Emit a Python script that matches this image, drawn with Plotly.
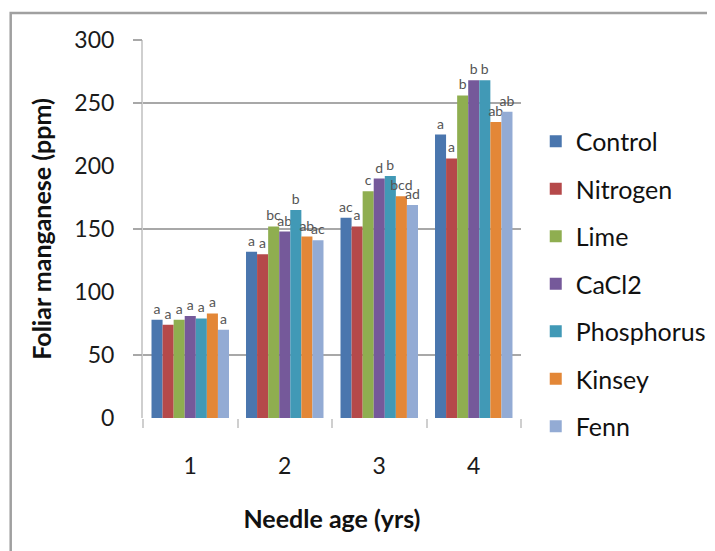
import plotly.graph_objects as go

ages = ["1", "2", "3", "4"]
treatments = ["Control", "Nitrogen", "Lime", "CaCl2", "Phosphorus", "Kinsey", "Fenn"]
control = [78, 132, 159, 225]
nitrogen = [74, 130, 152, 206]
lime = [78, 152, 180, 256]
cacl2 = [81, 148, 190, 268]
phosphorus = [79, 165, 192, 268]
kinsey = [83, 144, 176, 235]
fenn = [70, 141, 169, 243]
values = [control, nitrogen, lime, cacl2, phosphorus, kinsey, fenn]

letters_control = ["a", "a", "ac", "a"]
letters_nitrogen = ["a", "a", "a", "a"]
letters_lime = ["a", "bc", "c", "b"]
letters_cacl2 = ["a", "ab", "d", "b"]
letters_phosphorus = ["a", "b", "b", "b"]
letters_kinsey = ["a", "ab", "bcd", "ab"]
letters_fenn = ["a", "ac", "ad", "ab"]
letters = [letters_control, letters_nitrogen, letters_lime, letters_cacl2,
           letters_phosphorus, letters_kinsey, letters_fenn]

colors = ["#4A76AE", "#B5494A", "#8FAE50", "#75599A", "#4199B6", "#E38737", "#93ABD4"]

FONT = "Lato, 'Liberation Sans', sans-serif"

fig = go.Figure()
for i, name in enumerate(treatments):
    fig.add_trace(go.Bar(
        x=ages, y=values[i], name=name, legendgroup=name,
        marker=dict(color=colors[i], line=dict(width=0)),
        text=letters[i], textposition="outside", constraintext="none",
        textfont=dict(size=14, color="#555555", family=FONT),
        cliponaxis=False,
    ))

# invisible helper trace for the grid axis
fig.add_trace(go.Scatter(x=ages, y=[None] * 4, yaxis="y2", showlegend=False,
                         hoverinfo="skip", mode="lines"))

fig.update_layout(
    width=715, height=551,
    margin=dict(l=135, r=197, t=32, b=141),
    paper_bgcolor="white", plot_bgcolor="white",
    barmode="group", bargap=0.18, bargroupgap=0,
    font=dict(family=FONT, color="#1a1a1a"),
    xaxis=dict(
        type="category", showgrid=False, showline=False, zeroline=False,
        ticks="outside", tickson="boundaries", ticklen=9, tickwidth=2,
        tickcolor="#cfcfcf", tickfont=dict(size=23, color="#1a1a1a"),
        ticklabelstandoff=32,
        title=dict(text="<b>Needle age (yrs)</b>", font=dict(size=25, color="#111"), standoff=32),
    ),
    yaxis=dict(
        range=[0, 300], tickvals=[0, 50, 100, 150, 200, 250, 300],
        showgrid=False, zeroline=False, showline=True, linecolor="#cfcfcf", linewidth=2,
        ticks="", tickfont=dict(size=23, color="#1a1a1a"), ticklabelstandoff=22,
        title=dict(text="<b>Foliar manganese (ppm)</b>", font=dict(size=25, color="#111"), standoff=16),
    ),
    yaxis2=dict(
        overlaying="y", side="left", range=[0, 300], tickvals=[50, 150, 250, 300],
        showgrid=True, gridcolor="#a8a8a8", gridwidth=1.5, zeroline=False,
        ticks="outside", ticklen=9, tickcolor="#a8a8a8", tickwidth=1.5,
        showticklabels=False, showline=False,
    ),
    legend=dict(
        x=1.039, y=0.792, xanchor="left", yanchor="top",
        font=dict(size=25, color="#111"), tracegroupgap=12,
        traceorder="grouped", bgcolor="rgba(0,0,0,0)",
    ),
    shapes=[dict(type="rect", xref="paper", yref="paper",
                 x0=-0.35, x1=2.0, y0=-1.0, y1=1.0714,
                 line=dict(color="#a0a0a0", width=2.5), layer="below")],
)

fig.write_html("out.html")
